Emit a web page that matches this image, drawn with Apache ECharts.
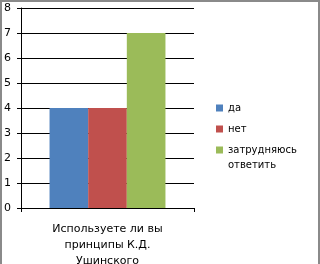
<!DOCTYPE html>
<html><head><meta charset="utf-8">
<script src="https://cdn.jsdelivr.net/npm/echarts@6/dist/echarts.min.js"></script>
<style>
html,body{margin:0;padding:0;background:#fff;}
#wrap{position:relative;width:320px;height:264px;}
#c{width:320px;height:264px;}
#bd{position:absolute;left:0;top:0;width:316px;height:264px;border-left:2px solid #8a8a8a;border-top:2px solid #8a8a8a;border-right:2px solid #8a8a8a;pointer-events:none;}
</style></head><body>
<div id="wrap"><div id="c"></div><div id="bd"></div></div>
<script>
var categories = ['Используете ли вы принципы К.Д. Ушинского'];
var seriesNames = ['да', 'нет', 'затрудняюсь'];
var valuesDa = [4];
var valuesNet = [4];
var valuesZatr = [7];
var yTicks = [0, 8, 1];
var colors = ['#4F81BD', '#C0504D', '#9BBB59'];
var font = 'DejaVu Sans';
var chart = echarts.init(document.getElementById('c'));
function bar(name, data, color){
  return {name:name,type:'bar',data:data,barGap:0,barCategoryGap:'33%',itemStyle:{color:color},animation:false};
}
chart.setOption({
  animation:false,
  grid:{left:21,right:126,top:8,bottom:56,outerBoundsMode:'none',containLabel:false},
  xAxis:{type:'category',data:categories,
    axisLine:{lineStyle:{color:'#000',width:1}},
    axisTick:{show:true,length:4,lineStyle:{color:'#000'}},
    axisLabel:{color:'#000',fontFamily:font,fontSize:11,lineHeight:16,margin:13,
      formatter:function(v){return 'Используете ли вы\nпринципы К.Д.\nУшинского';}}},
  yAxis:{type:'value',min:yTicks[0],max:yTicks[1],interval:yTicks[2],
    axisLine:{show:true,lineStyle:{color:'#000'}},
    axisTick:{show:true,length:4,lineStyle:{color:'#000'}},
    splitLine:{lineStyle:{color:'#000',width:1}},
    axisLabel:{color:'#000',fontFamily:font,fontSize:11,margin:10}},
  legend:{orient:'vertical',left:216,top:103,padding:0,itemWidth:7,itemHeight:7,itemGap:11,icon:'rect',
    textStyle:{color:'#000',fontFamily:font,fontSize:10},
    data:seriesNames},
  graphic:[{type:'text',left:228,top:160,style:{text:'ответить',fill:'#000',font:'10px "DejaVu Sans"'}}],
  series:[bar(seriesNames[0],valuesDa,colors[0]),bar(seriesNames[1],valuesNet,colors[1]),bar(seriesNames[2],valuesZatr,colors[2])]
});
</script></body></html>
